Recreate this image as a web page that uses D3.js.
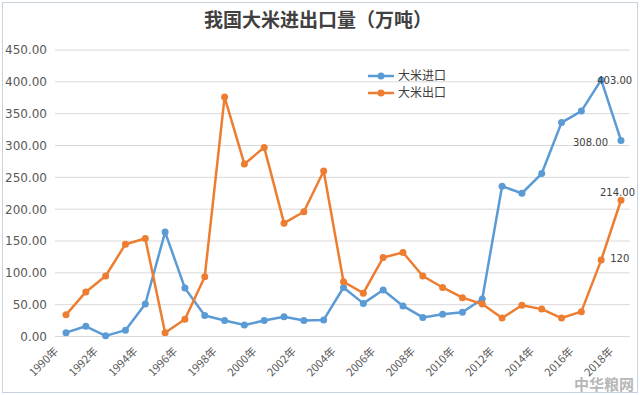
<!DOCTYPE html>
<html>
<head>
<meta charset="utf-8">
<script src="https://cdn.jsdelivr.net/npm/d3@7"></script>
<style>
  body { margin: 0; background: #fff; }
  svg { display: block; font-family: "Noto Sans CJK SC", "DejaVu Sans", sans-serif; }
</style>
</head>
<body>
<div id="chart"></div>
<script>
const years = d3.range(1990, 2019);
const tickYears = years.filter(y => y % 2 === 0);
const importData = [6, 16, 1, 10, 51, 164, 76, 33, 25, 18, 25, 31, 25, 26, 77, 52, 73, 48, 30, 35, 38, 59, 236, 225, 256, 336, 354, 403, 308];
const exportData = [34, 70, 95, 145, 154, 6, 27, 94, 376, 271, 297, 178, 196, 260, 86, 68, 124, 132, 95, 77, 61, 51, 29, 49, 43, 29, 39, 120, 214];
const yTicks = d3.range(0, 451, 50);
const seriesNames = ['大米进口', '大米出口'];
const dataLabels = [
  { series: 0, year: 2017, text: '403.00', dx: -4, dy: 4 },
  { series: 0, year: 2018, text: '308.00', dx: -48, dy: 6 },
  { series: 1, year: 2018, text: '214.00', dx: -21, dy: -4 },
  { series: 1, year: 2017, text: '120', dx: 9, dy: 2 }
];

const width = 640, height = 395;
const colors = ['#5B9BD5', '#ED7D31'];

const svg = d3.select('#chart')
  .append('svg')
  .attr('width', width)
  .attr('height', height);

// chart frame
svg.append('rect')
  .attr('x', 2.5).attr('y', 2.5)
  .attr('width', width - 5).attr('height', height - 5)
  .attr('fill', '#fff')
  .attr('stroke', '#c9d3dd');

const x = d3.scalePoint()
  .domain(years)
  .range([66, 621]);

const y = d3.scaleLinear()
  .domain([0, 450])
  .range([336.5, 50]);

// gridlines
svg.append('g')
  .selectAll('line')
  .data(yTicks)
  .enter()
  .append('line')
  .attr('x1', 55).attr('x2', 630)
  .attr('y1', d => y(d)).attr('y2', d => y(d))
  .attr('stroke', '#d9d9d9')
  .attr('stroke-width', 1);

// y axis labels
const yAxis = svg.append('g')
  .attr('transform', 'translate(50, 0)')
  .call(d3.axisLeft(y).tickValues(yTicks).tickFormat(d3.format('.2f')).tickSize(0).tickPadding(3));
yAxis.select('.domain').remove();
yAxis.selectAll('text')
  .attr('fill', '#595959')
  .style('font-size', '12px')
  .style('font-family', '"DejaVu Sans", sans-serif');

// x axis labels
svg.append('g')
  .selectAll('text')
  .data(tickYears)
  .enter()
  .append('text')
  .attr('transform', d => `translate(${x(d) - 7}, 352) rotate(-45)`)
  .attr('text-anchor', 'end')
  .attr('fill', '#595959')
  .style('font-size', '11px')
  .text(d => d + '年');

// series
const line = d3.line()
  .x((d, i) => x(years[i]))
  .y(d => y(d));

[importData, exportData].forEach((data, s) => {
  svg.append('path')
    .datum(data)
    .attr('fill', 'none')
    .attr('stroke', colors[s])
    .attr('stroke-width', 2.5)
    .attr('stroke-linejoin', 'round')
    .attr('d', line);

  svg.append('g')
    .selectAll('circle')
    .data(data)
    .enter()
    .append('circle')
    .attr('cx', (d, i) => x(years[i]))
    .attr('cy', d => y(d))
    .attr('r', 3.5)
    .attr('fill', colors[s]);
});

// data labels
svg.append('g')
  .selectAll('text')
  .data(dataLabels)
  .enter()
  .append('text')
  .attr('x', d => x(d.year) + d.dx)
  .attr('y', d => y((d.series === 0 ? importData : exportData)[years.indexOf(d.year)]) + d.dy)
  .attr('fill', '#404040')
  .style('font-size', '10px')
  .style('font-family', '"DejaVu Sans", sans-serif')
  .text(d => d.text);

// legend
const legend = svg.append('g')
  .attr('transform', 'translate(368, 76)');
seriesNames.forEach((name, i) => {
  const g = legend.append('g').attr('transform', `translate(0, ${i * 17})`);
  g.append('line')
    .attr('x1', 0).attr('x2', 26)
    .attr('stroke', colors[i])
    .attr('stroke-width', 2.5);
  g.append('circle')
    .attr('cx', 13).attr('r', 3.5)
    .attr('fill', colors[i]);
  g.append('text')
    .attr('x', 30).attr('dy', '0.35em')
    .attr('fill', '#404040')
    .style('font-size', '12px')
    .text(name);
});

// title
svg.append('text')
  .attr('x', 318)
  .attr('y', 27)
  .attr('text-anchor', 'middle')
  .attr('fill', '#404040')
  .style('font-size', '19px')
  .style('font-weight', 'bold')
  .text('我国大米进出口量（万吨）');

// watermark
svg.append('text')
  .attr('x', 634)
  .attr('y', 390)
  .attr('text-anchor', 'end')
  .attr('fill', '#a6a6a6')
  .attr('opacity', 0.8)
  .style('font-size', '15px')
  .style('font-weight', 'bold')
  .text('中华粮网');
</script>
</body>
</html>
